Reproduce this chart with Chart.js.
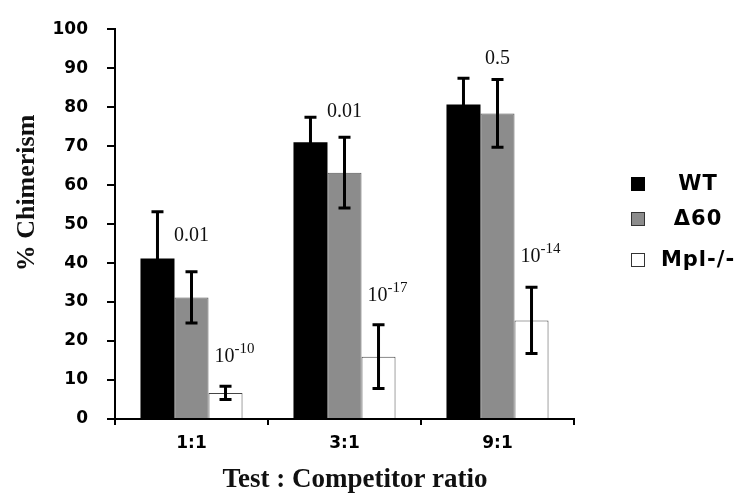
<!DOCTYPE html>
<html>
<head>
<meta charset="utf-8">
<script src="https://cdn.jsdelivr.net/npm/chart.js@4"></script>
<style>
  body { margin: 0; background: #fff; }
  #wrap { width: 755px; height: 496px; }
</style>
</head>
<body>
<div id="wrap"><canvas id="chart" width="755" height="496"></canvas></div>
<script>
// values (% chimerism, mean and error)
const categories = ['1:1', '3:1', '9:1'];
const seriesNames = ['WT', '\u039460', 'Mpl-/-'];
const wtMean = [41.2, 71.0, 80.7];
const wtErr = [12.0, 6.4, 6.7];
const d60Mean = [31.2, 63.2, 78.4];
const d60Err = [6.6, 9.1, 8.7];
const mplMean = [6.7, 16.0, 25.3];
const mplErr = [1.7, 8.2, 8.5];
const yTicks = [0, 10, 20, 30, 40, 50, 60, 70, 80, 90, 100];

// p-values printed over the bars, with the value where their baseline sits
const d60P = ['0.01', '0.01', '0.5'];
const d60PAt = [45.7, 77.4, 91.2];
const mplPExp = ['-10', '-17', '-14'];
const mplPAt = [14.5, 30.2, 40.3];

const barColors = ['#000000', '#8c8c8c', '#ffffff'];
const barBorders = ['#000000', '#555555', '#444444'];

const errorBars = {
    id: 'errorBars',
    afterDatasetsDraw(chart) {
        const ctx = chart.ctx;
        const y = chart.scales.y;
        ctx.save();
        ctx.strokeStyle = '#000';
        ctx.lineWidth = 3;
        chart.data.datasets.forEach((ds, di) => {
            const meta = chart.getDatasetMeta(di);
            meta.data.forEach((bar, i) => {
                const top = y.getPixelForValue(ds.data[i] + ds.err[i]);
                const bot = y.getPixelForValue(ds.data[i] - ds.err[i]);
                const x = bar.x;
                ctx.beginPath();
                ctx.moveTo(x, top); ctx.lineTo(x, bot);
                ctx.moveTo(x - 6, top); ctx.lineTo(x + 6, top);
                ctx.moveTo(x - 6, bot); ctx.lineTo(x + 6, bot);
                ctx.stroke();
            });
        });
        ctx.restore();
    }
};

const pLabels = {
    id: 'pLabels',
    afterDatasetsDraw(chart) {
        const ctx = chart.ctx;
        const y = chart.scales.y;
        const m1 = chart.getDatasetMeta(1);
        const m2 = chart.getDatasetMeta(2);
        ctx.save();
        ctx.fillStyle = '#111';
        ctx.textBaseline = 'alphabetic';
        ctx.textAlign = 'center';
        ctx.font = '20px "Liberation Serif"';
        d60P.forEach((t, i) => {
            ctx.fillText(t, m1.data[i].x, y.getPixelForValue(d60PAt[i]));
        });
        ctx.textAlign = 'left';
        mplPExp.forEach((e, i) => {
            ctx.font = '20px "Liberation Serif"';
            const w1 = ctx.measureText('10').width;
            ctx.font = '15px "Liberation Serif"';
            const w2 = ctx.measureText(e).width;
            const x0 = m2.data[i].x + 9 - (w1 + w2) / 2;
            const by = y.getPixelForValue(mplPAt[i]);
            ctx.font = '20px "Liberation Serif"';
            ctx.fillText('10', x0, by);
            ctx.font = '15px "Liberation Serif"';
            ctx.fillText(e, x0 + w1, by - 9);
        });
        ctx.restore();
    }
};

const sideLegend = {
    id: 'sideLegend',
    afterDraw(chart) {
        const ctx = chart.ctx;
        const rows = [184, 219, 260];
        ctx.save();
        ctx.font = 'bold 21px "DejaVu Sans"';
        ctx.letterSpacing = '1px';
        ctx.textAlign = 'center';
        ctx.textBaseline = 'middle';
        seriesNames.forEach((name, i) => {
            ctx.fillStyle = barColors[i];
            ctx.fillRect(631, rows[i] - 7, 14, 14);
            ctx.strokeStyle = i === 0 ? '#000' : '#333';
            ctx.lineWidth = 1;
            ctx.strokeRect(631.5, rows[i] - 6.5, 13, 13);
            ctx.fillStyle = '#000';
            ctx.fillText(name, 698, rows[i] + 1);
        });
        ctx.restore();
    }
};

const axisTitles = {
    id: 'axisTitles',
    afterDraw(chart) {
        const ctx = chart.ctx;
        ctx.save();
        ctx.fillStyle = '#111';
        ctx.font = 'bold 27px "Liberation Serif"';
        ctx.textAlign = 'center';
        ctx.textBaseline = 'alphabetic';
        ctx.fillText('Test : Competitor ratio', 355, 487);
        ctx.font = 'bold 26px "Liberation Serif"';
        ctx.translate(34, 193);
        ctx.rotate(-Math.PI / 2);
        ctx.fillText('% Chimerism', 0, 0);
        ctx.restore();
    }
};

const datasets = [wtMean, d60Mean, mplMean].map((vals, i) => ({
    label: seriesNames[i],
    data: vals,
    err: [wtErr, d60Err, mplErr][i],
    backgroundColor: barColors[i],
    borderColor: barBorders[i],
    borderWidth: i === 0 ? 0 : 1,
    categoryPercentage: 0.667,
    barPercentage: 1.0
}));

const ctx = document.getElementById('chart').getContext('2d');
const chart = new Chart(ctx, {
    type: 'bar',
    data: { labels: categories, datasets: datasets },
    options: {
        responsive: false,
        animation: false,
        layout: { padding: { left: 0, right: 181, top: 20, bottom: 0 } },
        plugins: {
            legend: { display: false },
            tooltip: { enabled: false }
        },
        scales: {
            x: {
                grid: { drawOnChartArea: false, color: '#000', lineWidth: 2, tickLength: 6, offset: true },
                border: { color: '#000', width: 2 },
                ticks: { color: '#000', padding: 8, font: { family: 'DejaVu Sans', size: 17, weight: 'bold' } },
                afterFit(s) { s.height = 77; }
            },
            y: {
                min: 0,
                max: 100,
                afterBuildTicks(s) { s.ticks = yTicks.map(v => ({ value: v })); },
                grid: { drawOnChartArea: false, color: '#000', lineWidth: 2, tickLength: 8 },
                border: { color: '#000', width: 2 },
                ticks: { color: '#000', padding: 19, font: { family: 'DejaVu Sans', size: 17, weight: 'bold' } },
                afterFit(s) { s.width = 115; }
            }
        }
    },
    plugins: [errorBars, pLabels, sideLegend, axisTitles]
});
</script>
</body>
</html>
